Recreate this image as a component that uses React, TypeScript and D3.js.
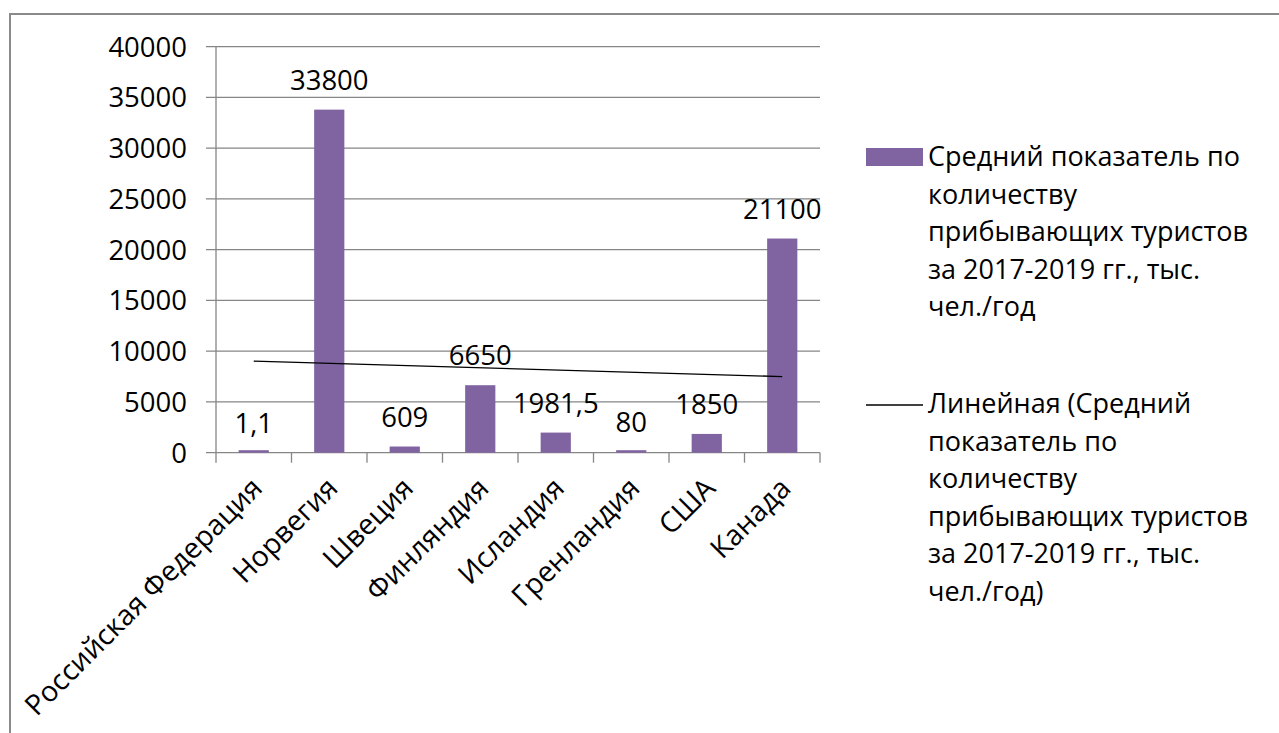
import React from 'react';
import * as d3 from 'd3';

const categories = [
  'Российская Федерация',
  'Норвегия',
  'Швеция',
  'Финляндия',
  'Исландия',
  'Гренландия',
  'США',
  'Канада',
];
const values = [1.1, 33800, 609, 6650, 1981.5, 80, 1850, 21100];
const valueLabels = ['1,1', '33800', '609', '6650', '1981,5', '80', '1850', '21100'];
const yTicks = [0, 5000, 10000, 15000, 20000, 25000, 30000, 35000, 40000];
const barLegendLines = [
  'Средний показатель по',
  'количеству',
  'прибывающих туристов',
  'за 2017-2019 гг., тыс.',
  'чел./год',
];
const trendLegendLines = [
  'Линейная (Средний',
  'показатель по',
  'количеству',
  'прибывающих туристов',
  'за 2017-2019 гг., тыс.',
  'чел./год)',
];

const W = 1279;
const H = 733;
const FONT = '"Open Sans", sans-serif';
const FS = 27;
const BAR = '#8064A2';
const GRID = '#868686';

const App = () => {
  const left = 216;
  const right = 820;
  const top = 46.7;
  const bottom = 452.7;

  const x = d3.scaleBand<string>()
    .domain(categories)
    .range([left, right])
    .paddingInner(0.6)
    .paddingOuter(0.3);
  const step = x.step();
  const y = d3.scaleLinear().domain([0, 40000]).range([bottom, top]);

  // linear trend (least squares over category index 1..n)
  const idx = values.map((_, i) => i + 1);
  const mx = d3.mean(idx) as number;
  const my = d3.mean(values) as number;
  const sxy = d3.sum(values, (v, i) => (idx[i] - mx) * (v - my));
  const sxx = d3.sum(idx, (i) => (i - mx) * (i - mx));
  const slope = sxy / sxx;
  const trend = (i: number) => my + slope * (i - mx);
  const trendPts = [1, values.length].map((i) => [
    (x(categories[i - 1]) as number) + x.bandwidth() / 2,
    y(trend(i)),
  ] as [number, number]);
  const trendPath = d3.line()(trendPts) as string;

  const boundaries = d3.range(categories.length + 1).map((i) => left + i * step);

  return (
    <svg
      width={W}
      height={H}
      style={{ position: 'absolute', left: 0, top: 0, background: '#fff' }}
      fontFamily={FONT}
    >
      <rect x={0} y={0} width={W} height={H} fill="#fff" />
      {/* outer chart border */}
      <rect x={10} y={14} width={W + 20} height={H + 20} fill="none" stroke="#8a8a8a" strokeWidth={2} />

      {/* gridlines + y labels */}
      {yTicks.map((t) => (
        <g key={t}>
          <line x1={left - 10} x2={right} y1={y(t)} y2={y(t)} stroke={GRID} strokeWidth={1.3} />
          <text x={187} y={y(t)} dy="0.36em" textAnchor="end" fontSize={FS + 0.5} fill="#000">
            {t}
          </text>
        </g>
      ))}
      <line x1={left} x2={left} y1={top} y2={bottom} stroke={GRID} strokeWidth={1.3} />
      {boundaries.map((b, i) => (
        <line key={i} x1={b} x2={b} y1={bottom} y2={bottom + 10} stroke={GRID} strokeWidth={1.3} />
      ))}

      {/* bars */}
      {categories.map((c, i) => {
        const h = Math.max(2.5, bottom - y(values[i]));
        return (
          <rect key={c} x={x(c)} y={bottom - h} width={x.bandwidth()} height={h} fill={BAR} />
        );
      })}

      {/* trend line */}
      <path d={trendPath} fill="none" stroke="#000" strokeWidth={1.4} />

      {/* data labels */}
      {categories.map((c, i) => (
        <text
          key={c}
          x={(x(c) as number) + x.bandwidth() / 2}
          y={y(values[i]) - 20}
          textAnchor="middle"
          fontSize={FS + 0.5}
          fill="#000"
        >
          {valueLabels[i]}
        </text>
      ))}

      {/* category labels */}
      {categories.map((c) => {
        const cx = (x(c) as number) + x.bandwidth() / 2 + 3;
        const cy = bottom + 30;
        return (
          <text
            key={c}
            transform={`translate(${cx},${cy}) rotate(-45)`}
            textAnchor="end"
            dy="0.36em"
            fontSize={28.5}
            fill="#000"
          >
            {c}
          </text>
        );
      })}

      {/* legend */}
      <rect x={866} y={148} width={57} height={18} fill={BAR} />
      {barLegendLines.map((l, i) => (
        <text key={l} x={928} y={166 + i * 37.5} fontSize={FS} fill="#000">
          {l}
        </text>
      ))}
      <line x1={866} x2={923} y1={405} y2={405} stroke="#000" strokeWidth={1.4} />
      {trendLegendLines.map((l, i) => (
        <text key={l + i} x={928} y={413 + i * 37.5} fontSize={FS} fill="#000">
          {l}
        </text>
      ))}
    </svg>
  );
};

export default App;
